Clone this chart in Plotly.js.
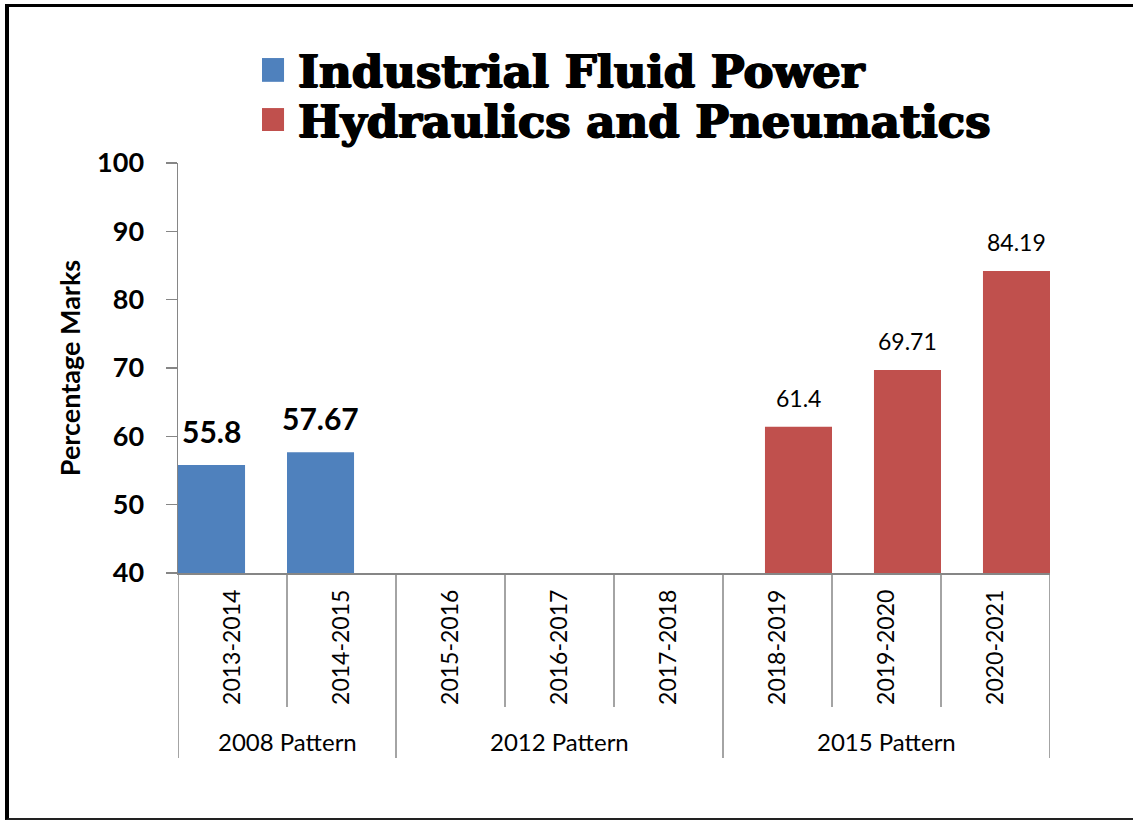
<!DOCTYPE html>
<html><head><meta charset="utf-8">
<script src="https://cdn.plot.ly/plotly-3.0.1.min.js"></script>
<style>
html,body{margin:0;padding:0;background:#fff;}
#wrap{position:relative;width:1133px;height:820px;overflow:hidden;}
#chart{width:1133px;height:820px;}
#frame{position:absolute;left:5px;top:4px;width:1140px;height:811px;border-left:4px solid #000;border-top:3px solid #000;border-bottom:2px solid #222;pointer-events:none;}
</style></head><body>
<div id="wrap"><div id="chart"></div><div id="frame"></div></div>
<script>
// ---- data ----
const years = ["2013-2014","2014-2015","2015-2016","2016-2017","2017-2018","2018-2019","2019-2020","2020-2021"];
const patterns = ["2008 Pattern","2008 Pattern","2012 Pattern","2012 Pattern","2012 Pattern","2015 Pattern","2015 Pattern","2015 Pattern"];
const seriesNames = ["Industrial Fluid Power","Hydraulics and Pneumatics"];
const industrialFluidPower = [55.8,57.67,null,null,null,null,null,null];
const hydraulicsPneumatics = [null,null,null,null,null,61.4,69.71,84.19];
const yTickValues = [40,50,60,70,80,90,100];
const yTitle = "Percentage Marks";

// ---- styles ----
const BLUE = "#4F81BD", RED = "#C0504D", AXIS = "#868686";
const FONT = "Lato, 'Open Sans', sans-serif";
const LEGFONT = "'DejaVu Serif', serif";
const barW = 0.615;

const traces = [
  {type:"bar", name:seriesNames[0], x:years, y:industrialFluidPower,
   marker:{color:BLUE}, width:barW, offset:-0.5, hoverinfo:"x+y"},
  {type:"bar", name:seriesNames[1], x:years, y:hydraulicsPneumatics,
   marker:{color:RED}, width:barW, offset:0.5-barW, hoverinfo:"x+y"}
];

const shapes = [];
const annotations = [];

// data labels above the bars
const labelFonts = [
  {family:FONT, size:30, weight:"bold", color:"#000"},
  {family:FONT, size:23, color:"#000"}
];
const labelShift = [14, 13];
const barCenterShift = [-0.5 + barW/2, 0.5 - barW/2];
[industrialFluidPower, hydraulicsPneumatics].forEach((arr, k) => {
  arr.forEach((v, i) => {
    if (v == null) return;
    annotations.push({xref:"x", yref:"y", x:i + barCenterShift[k], y:v, text:String(v),
      showarrow:false, xanchor:"center", yanchor:"bottom", yshift:labelShift[k],
      font:labelFonts[k]});
  });
});

// dividers below the category axis
const INNER = -0.327, OUTER = -0.451;
for (let i = 0; i <= years.length; i++) {
  const isGroupEdge = (i === 0 || i === years.length || patterns[i] !== patterns[i-1]);
  shapes.push({type:"line", xref:"x", yref:"paper", x0:i-0.5, x1:i-0.5, y0:0, y1:isGroupEdge?OUTER:INNER,
               line:{color:AXIS, width:1.5}});
}
// group labels
const groups = [];
patterns.forEach((p, i) => {
  if (!groups.length || groups[groups.length-1].name !== p) groups.push({name:p, first:i, last:i});
  else groups[groups.length-1].last = i;
});
groups.forEach(g => annotations.push({xref:"x", yref:"paper", x:(g.first+g.last)/2, y:-0.412,
  text:g.name, showarrow:false, xanchor:"center", yanchor:"middle",
  font:{family:FONT, size:24, color:"#000"}}));

// legend (drawn large, as in the original)
const legColors = [BLUE, RED];
const legRows = [{top:1.256, bot:1.198, ty:1.222},{top:1.134, bot:1.078, ty:1.100}];
seriesNames.forEach((n, k) => {
  shapes.push({type:"rect", xref:"paper", yref:"paper", x0:0.0963, x1:0.1216,
    y0:legRows[k].bot, y1:legRows[k].top, fillcolor:legColors[k], line:{width:0}});
  annotations.push({xref:"paper", yref:"paper", x:0.1353, y:legRows[k].ty, text:n,
    showarrow:false, xanchor:"left", yanchor:"middle",
    font:{family:LEGFONT, size:45, weight:"bold", color:"#000",
          shadow:"1px 0 0 #000, -1px 0 0 #000, 0 1px 0 #000"}});
});

const layout = {
  width:1133, height:820,
  margin:{l:178, r:83, t:163, b:247},
  paper_bgcolor:"#fff", plot_bgcolor:"#fff",
  barmode:"overlay", showlegend:false,
  xaxis:{type:"category", range:[-0.5, years.length-0.5], showline:true, linecolor:AXIS, linewidth:1.5,
         ticks:"", showgrid:false, tickangle:-90, ticklabelstandoff:6,
         tickfont:{family:FONT, size:23, color:"#000"}, fixedrange:true},
  yaxis:{range:[40,100], tickvals:yTickValues, showline:true, linecolor:AXIS, linewidth:1.5,
         ticks:"outside", ticklen:11, tickcolor:AXIS, tickwidth:1.5, showgrid:false, zeroline:false,
         ticklabelstandoff:16,
         tickfont:{family:FONT, size:27, weight:"bold", color:"#000"},
         title:{text:yTitle, font:{family:FONT, size:27, weight:"bold", color:"#000"}, standoff:8},
         fixedrange:true},
  shapes:shapes, annotations:annotations
};
Plotly.newPlot("chart", traces, layout, {displayModeBar:false, staticPlot:true});
</script>
</body></html>
